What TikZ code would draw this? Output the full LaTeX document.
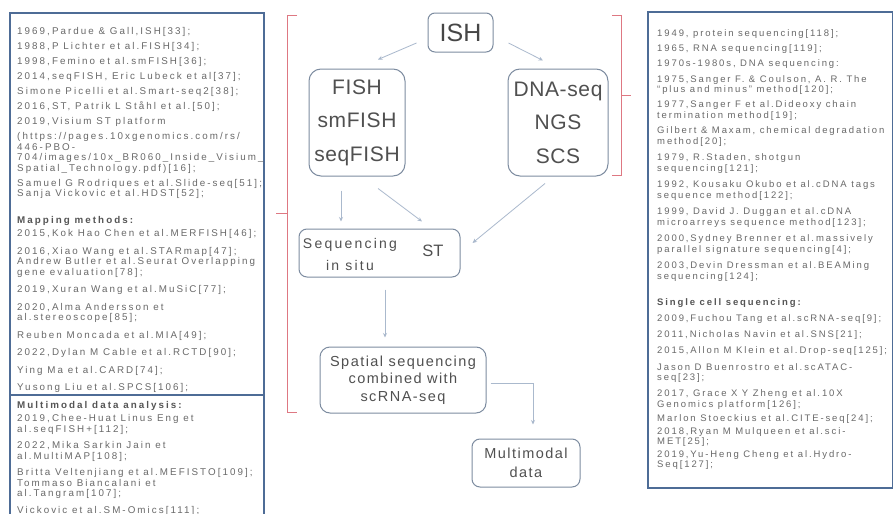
\documentclass[tikz,border=0pt]{standalone}
\usepackage{fontspec}
\setmainfont{Liberation Sans}
\newfontfamily\pfont[LetterSpace=21]{Liberation Sans}
\newfontfamily\rfont[LetterSpace=20]{Liberation Sans}
\newfontfamily\bigfont[LetterSpace=3]{Liberation Sans}
\newfontfamily\midfont[LetterSpace=16]{Liberation Sans}
\newfontfamily\spfont[LetterSpace=10]{Liberation Sans}
\usetikzlibrary{arrows.meta,calc}
\definecolor{panelc}{RGB}{78,108,150}
\definecolor{txtc}{RGB}{105,105,105}
\definecolor{headc}{RGB}{85,85,85}
\definecolor{boxc}{RGB}{125,140,160}
\definecolor{arrc}{RGB}{170,185,205}
\definecolor{brc}{RGB}{222,120,130}
\definecolor{boxtxt}{RGB}{80,80,80}
\definecolor{ishtxt}{RGB}{70,70,70}
\begin{document}
\begin{tikzpicture}[x=1pt,y=-1pt,
  ptxt/.style={anchor=west,inner sep=0pt,text height=7pt,text depth=0pt,
    font=\pfont\fontsize{9.8}{10.5}\selectfont,text=txtc},
  phead/.style={ptxt,font=\pfont\bfseries\fontsize{9.8}{10.5}\selectfont,text=headc},
  rtxt/.style={ptxt,font=\rfont\fontsize{9.5}{10.5}\selectfont},
  rhead/.style={ptxt,font=\rfont\bfseries\fontsize{9.5}{10.5}\selectfont,text=headc},
  bx/.style={draw=boxc,line width=1pt,rounded corners=10pt,inner sep=0pt,
    align=center,text=boxtxt},
  lbl/.style={inner sep=0pt,align=center,text=boxtxt},
  arr/.style={draw=arrc,line width=0.8pt,-{Stealth[length=4.5pt,width=4pt]}},
  brk/.style={draw=brc,line width=0.9pt},
  panel/.style={draw=panelc,line width=1.5pt}]
\useasboundingbox (0,0) rectangle (895,514);
\clip (0,0) rectangle (895,514);
\fill[white] (0,0) rectangle (895,514);

% panels
\draw[panel] (10,13) rectangle (264,530);
\draw[panel] (10,395) -- (264,395);
\draw[panel] (648,12) rectangle (892.5,488);

% red brackets
\draw[brk] (297,15) -- (287,15) -- (287,412) -- (297,412);
\draw[brk] (287,213) -- (276,213);
\draw[brk] (612,15) -- (621,15) -- (621,175) -- (612,175);
\draw[brk] (621,95) -- (631,95);

% left panel text
\node[ptxt] (a1) at (17,31) {1969,Pardue \& Gall,ISH[33];};
\node[ptxt] (a2) at (17,46) {1988,P Lichter et al.FISH[34];};
\node[ptxt] (a3) at (17,61) {1998,Femino et al.smFISH[36];};
\node[ptxt] (a4) at (17,76) {2014,seqFISH, Eric Lubeck et al[37];};
\node[ptxt] (a5) at (17,91) {Simone Picelli et al.Smart-seq2[38];};
\node[ptxt] (a6) at (17,106) {2016,ST, Patrik L Ståhl et al.[50];};
\node[ptxt] (a7) at (17,121) {2019,Visium ST platform};
\node[ptxt] (a8) at (17,136) {(https://pages.10xgenomics.com/rs/};
\node[ptxt] (a9) at (17,146.5) {446-PBO-};
\node[ptxt] (a10) at (17,157) {704/images/10x\_BR060\_Inside\_Visium\_};
\node[ptxt] (a11) at (17,167.5) {Spatial\_Technology.pdf)[16];};
\node[ptxt] (a12) at (17,182.5) {Samuel G Rodriques et al.Slide-seq[51];};
\node[ptxt] (a13) at (17,193) {Sanja Vickovic et al.HDST[52];};
\node[phead] (a14) at (17,220) {Mapping methods:};
\node[ptxt] (a15) at (17,233) {2015,Kok Hao Chen et al.MERFISH[46];};
\node[ptxt] (a16) at (17,250.5) {2016,Xiao Wang et al.STARmap[47];};
\node[ptxt] (a17) at (17,261) {Andrew Butler et al.Seurat Overlapping};
\node[ptxt] (a18) at (17,271.5) {gene evaluation[78];};
\node[ptxt] (a19) at (17,289) {2019,Xuran Wang et al.MuSiC[77];};
\node[ptxt] (a20) at (17,306.5) {2020,Alma Andersson et};
\node[ptxt] (a21) at (17,317) {al.stereoscope[85];};
\node[ptxt] (a22) at (17,334.5) {Reuben Moncada et al.MIA[49];};
\node[ptxt] (a23) at (17,352) {2022,Dylan M Cable et al.RCTD[90];};
\node[ptxt] (a24) at (17,369.5) {Ying Ma et al.CARD[74];};
\node[ptxt] (a25) at (17,387) {Yusong Liu et al.SPCS[106];};
\node[phead] (b1) at (17,405) {Multimodal data analysis:};
\node[ptxt] (b2) at (17,418) {2019,Chee-Huat Linus Eng et};
\node[ptxt] (b3) at (17,428.5) {al.seqFISH+[112];};
\node[ptxt] (b4) at (17,445) {2022,Mika Sarkin Jain et};
\node[ptxt] (b5) at (17,455.5) {al.MultiMAP[108];};
\node[ptxt] (b6) at (17,472) {Britta Veltenjiang et al.MEFISTO[109];};
\node[ptxt] (b7) at (17,482.5) {Tommaso Biancalani et};
\node[ptxt] (b8) at (17,493) {al.Tangram[107];};
\node[ptxt] (b9) at (17,510) {Vickovic et al.SM-Omics[111];};

% right panel text
\node[rtxt] (c1) at (657,33) {1949, protein sequencing[118];};
\node[rtxt] (c2) at (657,48.2) {1965, RNA sequencing[119];};
\node[rtxt] (c3) at (657,63.4) {1970s-1980s, DNA sequencing:};
\node[rtxt] (c4) at (657,78.6) {1975,Sanger F. \& Coulson, A. R. The};
\node[rtxt] (c5) at (657,89.1) {“plus and minus” method[120];};
\node[rtxt] (c6) at (657,104.3) {1977,Sanger F et al.Dideoxy chain};
\node[rtxt] (c7) at (657,114.8) {termination method[19];};
\node[rtxt] (c8) at (657,130) {Gilbert \& Maxam, chemical degradation};
\node[rtxt] (c9) at (657,140.5) {method[20];};
\node[rtxt] (c10) at (657,157) {1979, R.Staden, shotgun};
\node[rtxt] (c11) at (657,167.5) {sequencing[121];};
\node[rtxt] (c12) at (657,184) {1992, Kousaku Okubo et al.cDNA tags};
\node[rtxt] (c13) at (657,194.5) {sequence method[122];};
\node[rtxt] (c14) at (657,211) {1999, David J. Duggan et al.cDNA};
\node[rtxt] (c15) at (657,221.5) {microarreys sequence method[123];};
\node[rtxt] (c16) at (657,238) {2000,Sydney Brenner et al.massively};
\node[rtxt] (c17) at (657,248.5) {parallel signature sequencing[4];};
\node[rtxt] (c18) at (657,265) {2003,Devin Dressman et al.BEAMing};
\node[rtxt] (c19) at (657,275.5) {sequencing[124];};
\node[rhead] (c20) at (657,302) {Single cell sequencing:};
\node[rtxt] (c21) at (657,318) {2009,Fuchou Tang et al.scRNA-seq[9];};
\node[rtxt] (c22) at (657,334) {2011,Nicholas Navin et al.SNS[21];};
\node[rtxt] (c23) at (657,350) {2015,Allon M Klein et al.Drop-seq[125];};
\node[rtxt] (c24) at (657,366.5) {Jason D Buenrostro et al.scATAC-};
\node[rtxt] (c25) at (657,377) {seq[23];};
\node[rtxt] (c26) at (657,393) {2017, Grace X Y Zheng et al.10X};
\node[rtxt] (c27) at (657,403.5) {Genomics platform[126];};
\node[rtxt] (c28) at (657,418) {Marlon Stoeckius et al.CITE-seq[24];};
\node[rtxt] (c29) at (657,430.5) {2018,Ryan M Mulqueen et al.sci-};
\node[rtxt] (c30) at (657,441) {MET[25];};
\node[rtxt] (c31) at (657,453.5) {2019,Yu-Heng Cheng et al.Hydro-};
\node[rtxt] (c32) at (657,464) {Seq[127];};

% central flow
\node[bx,rounded corners=7pt,minimum width=65pt,minimum height=39pt,
  font=\fontsize{25}{30}\selectfont,text=ishtxt] (ish) at (460.5,32.5) {ISH};
\node[bx,rounded corners=12pt,minimum width=96pt,minimum height=107pt,
  font=\bigfont\fontsize{21}{33.5}\selectfont] (fish) at (357,122.5) {FISH\\smFISH\\seqFISH};
\node[bx,rounded corners=12pt,minimum width=100pt,minimum height=107pt,
  font=\bigfont\fontsize{21}{33.5}\selectfont] (dna) at (558,122.5) {DNA-seq\\NGS\\SCS};
\node[bx,rounded corners=8pt,minimum width=161pt,minimum height=48pt] (seq) at (379.5,253) {};
\node[lbl,font=\midfont\fontsize{14}{22}\selectfont] (seqtxt) at (350,254) {Sequencing\\in situ};
\node[lbl,font=\fontsize{16.5}{20}\selectfont] (sttxt) at (433,251) {ST};
\node[bx,rounded corners=10pt,minimum width=166pt,minimum height=66pt,
  font=\spfont\fontsize{14.5}{17.5}\selectfont] (sp) at (403,380) {Spatial sequencing\\combined with\\scRNA-seq};
\node[bx,rounded corners=8pt,minimum width=108pt,minimum height=48pt,
  font=\spfont\fontsize{14.5}{19}\selectfont] (mm) at (526,463) {Multimodal\\data};

% arrows
\draw[arr] ($(ish.west)+(-11,10.5)$) -- ($(fish.north)+(21,-9)$);
\draw[arr] ($(ish.east)+(15,10.5)$) -- ($(dna.north)+(-15,-8)$);
\draw[arr] ($(fish.south)+(-16,14)$) -- ($(seq.north)+(-38.5,-7)$);
\draw[arr] ($(fish.south)+(21,12)$) -- ($(seq.north)+(42.5,-7)$);
\draw[arr] ($(dna.south)+(-13,7)$) -- ($(seq.east)+(12,-10)$);
\draw[arr] ($(seq.south)+(5.5,12)$) -- ($(sp.north)+(-18,-9)$);
\draw[arr] ($(sp.east)+(4,3)$) -| ($(mm.north)+(7,-14)$);
\end{tikzpicture}
\end{document}
